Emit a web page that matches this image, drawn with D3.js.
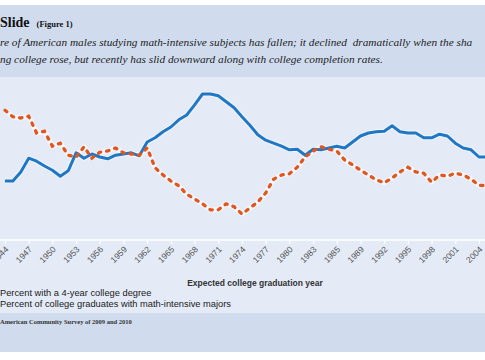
<!DOCTYPE html>
<html>
<head>
<meta charset="utf-8">
<script src="https://cdn.jsdelivr.net/npm/d3@7"></script>
<style>
  html, body { margin: 0; padding: 0; background: #fff; }
  svg { display: block; }
</style>
</head>
<body>
<svg id="chart" width="485" height="360"></svg>
<script>
/* ── Data ───────────────────────────────────────────────── */
const years = d3.range(1944, 2006);

// Percent with a 4-year college degree
const degreeShare = [
  21.5, 21.5, 23.0, 25.3, 24.8, 24.0, 23.3, 22.3, 23.2, 26.2,
  25.3, 26.0, 25.5, 25.2, 25.8, 26.0, 26.2, 25.7, 28.0, 28.7,
  29.7, 30.5, 31.7, 32.5, 34.2, 36.0, 36.0, 35.7, 34.7, 33.7,
  32.2, 30.8, 29.2, 28.3, 27.8, 27.3, 26.7, 26.8, 25.8, 26.8,
  26.7, 27.0, 27.3, 27.0, 28.0, 29.0, 29.5, 29.7, 29.8, 30.7,
  29.7, 29.5, 29.5, 28.7, 28.7, 29.3, 29.0, 27.8, 27.0, 26.7,
  25.5, 25.5
];

// Percent of college graduates with math-intensive majors
const mathShare = [
  33.3, 32.2, 32.0, 32.3, 29.5, 29.8, 27.3, 27.8, 25.8, 25.5,
  27.2, 25.3, 26.3, 26.5, 27.0, 26.2, 26.0, 25.8, 27.0, 23.7,
  22.5, 21.5, 20.7, 19.3, 18.5, 17.7, 16.7, 16.7, 17.7, 17.2,
  16.0, 17.0, 18.0, 19.5, 21.8, 22.5, 22.7, 23.8, 25.5, 26.5,
  27.2, 26.8, 26.5, 25.0, 24.2, 23.3, 22.5, 21.7, 21.2, 22.0,
  23.0, 23.8, 23.0, 22.8, 21.3, 22.5, 22.3, 22.8, 22.5, 21.8,
  20.8, 20.7
];

const tickYears = d3.range(1944, 2005, 3);
const tickLabels = [
  '1944', '1947', '1950', '1953', '1956', '1959', '1962', '1965',
  '1968', '1971', '1974', '1977', '1980', '1983', '1985', '1989',
  '1992', '1995', '1998', '2001', '2004'
];

const seriesNames = [
  'Percent with a 4-year college degree',
  'Percent of college graduates with math-intensive majors'
];

/* ── Setup ──────────────────────────────────────────────── */
const W = 485, H = 360;
const svg = d3.select('#chart');

const C = {
  header: '#d0dcee',
  plot: '#e4ebf6',
  blue: '#2077c4',
  orange: '#e0561f',
  text: '#1a1a1a'
};

// background bands
svg.append('rect').attr('x', 0).attr('y', 5).attr('width', W).attr('height', 72).attr('fill', C.header);
svg.append('rect').attr('x', 0).attr('y', 77).attr('width', W).attr('height', 236).attr('fill', C.plot);
svg.append('rect').attr('x', 0).attr('y', 313).attr('width', W).attr('height', 39).attr('fill', C.header);

/* ── Header text ────────────────────────────────────────── */
const title = svg.append('text')
  .attr('x', 0).attr('y', 27)
  .attr('font-family', 'Liberation Serif, serif')
  .attr('font-weight', 'bold')
  .attr('font-size', 14)
  .attr('fill', '#111');
title.append('tspan').text('Slide');
title.append('tspan').attr('dx', 7).attr('font-size', 8.5).text('(Figure 1)');

const sub = svg.append('g')
  .attr('font-family', 'Liberation Serif, serif')
  .attr('font-style', 'italic')
  .attr('font-size', 11.3)
  .attr('fill', '#222');
sub.append('text').attr('x', 0).attr('y', 46).attr('xml:space', 'preserve')
  .text('re of American males studying math-intensive subjects has fallen; it declined  dramatically when the sha');
sub.append('text').attr('x', 0).attr('y', 63)
  .text('ng college rose, but recently has slid downward along with college completion rates.');

/* ── Scales ─────────────────────────────────────────────── */
const x = d3.scaleLinear().domain([1944, 2004]).range([5, 479]);
const y = d3.scaleLinear().domain([10, 40]).range([250, 70]);

/* ── Axis ───────────────────────────────────────────────── */
const axisY = 240;
const xAxis = d3.axisBottom(x)
  .tickValues(tickYears)
  .tickSize(4)
  .tickFormat((d, i) => tickLabels[i]);

const gx = svg.append('g').attr('transform', `translate(0,${axisY})`).call(xAxis);
gx.select('.domain').remove();
gx.insert('line', ':first-child')
  .attr('x1', 0).attr('x2', W)
  .attr('stroke', '#fff').attr('stroke-width', 1.5);
gx.selectAll('.tick line').attr('stroke', '#fff').attr('stroke-width', 1.2);
gx.selectAll('.tick text')
  .attr('font-family', 'Liberation Sans, sans-serif')
  .attr('font-size', 8.5)
  .attr('fill', '#555')
  .attr('text-anchor', 'end')
  .attr('y', 0)
  .attr('dy', 0)
  .attr('transform', 'translate(3.5,10) rotate(-45)');

svg.append('text')
  .attr('x', 255).attr('y', 286)
  .attr('text-anchor', 'middle')
  .attr('font-family', 'Liberation Sans, sans-serif')
  .attr('font-weight', 'bold')
  .attr('font-size', 8.5)
  .attr('fill', '#333')
  .text('Expected college graduation year');

/* ── Lines ──────────────────────────────────────────────── */
const line = d3.line()
  .x((d, i) => x(years[i]))
  .y(d => y(d));

const plot = svg.append('g');

// soft white halo under each series
[degreeShare, mathShare].forEach(s => {
  plot.append('path')
    .datum(s)
    .attr('d', line)
    .attr('fill', 'none')
    .attr('stroke', '#fff')
    .attr('stroke-opacity', 0.55)
    .attr('stroke-width', 5)
    .attr('stroke-linejoin', 'round');
});

plot.append('path')
  .datum(degreeShare)
  .attr('d', line)
  .attr('fill', 'none')
  .attr('stroke', C.blue)
  .attr('stroke-width', 3)
  .attr('stroke-linejoin', 'round');

plot.append('path')
  .datum(mathShare)
  .attr('d', line)
  .attr('fill', 'none')
  .attr('stroke', C.orange)
  .attr('stroke-width', 3.3)
  .attr('stroke-dasharray', '2.5,6')
  .attr('stroke-linecap', 'round');

/* ── Legend ─────────────────────────────────────────────── */
svg.append('g')
  .attr('font-family', 'Liberation Sans, sans-serif')
  .attr('font-size', 9.3)
  .attr('fill', C.text)
  .selectAll('text')
  .data(seriesNames)
  .join('text')
  .attr('x', 0)
  .attr('y', (d, i) => 296 + i * 10.7)
  .text(d => d);

/* ── Source ─────────────────────────────────────────────── */
svg.append('text')
  .attr('x', 0).attr('y', 324)
  .attr('font-family', 'Liberation Serif, serif')
  .attr('font-weight', 'bold')
  .attr('font-size', 6.5)
  .attr('fill', '#333')
  .text('American Community Survey of 2009 and 2010');
</script>
</body>
</html>
